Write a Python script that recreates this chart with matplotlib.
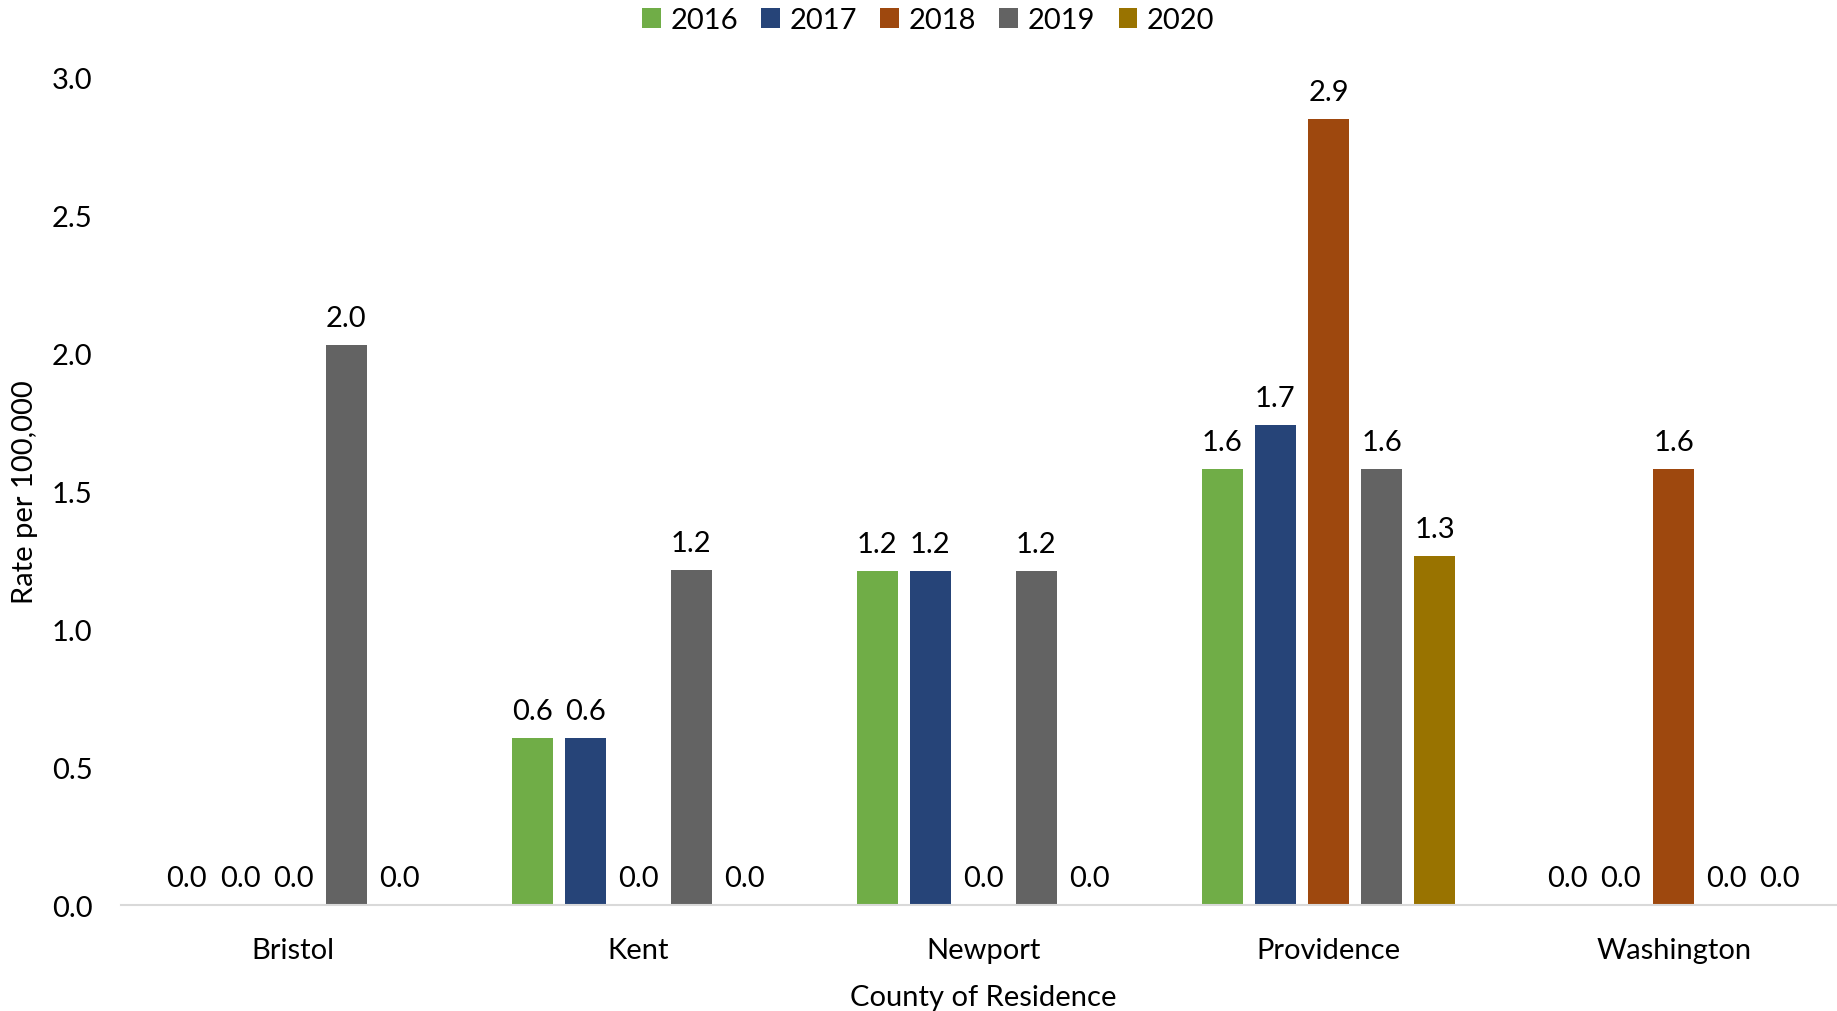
import numpy as np
import matplotlib.pyplot as plt

plt.rcParams['font.family'] = ['Lato', 'DejaVu Sans']

# County rates per 100,000 by year
counties = ['Bristol', 'Kent', 'Newport', 'Providence', 'Washington']
years = ['2016', '2017', '2018', '2019', '2020']
rate_2016 = [0.0, 0.605, 1.21, 1.58, 0.0]
rate_2017 = [0.0, 0.605, 1.21, 1.74, 0.0]
rate_2018 = [0.0, 0.0, 0.0, 2.85, 1.58]
rate_2019 = [2.03, 1.215, 1.21, 1.58, 0.0]
rate_2020 = [0.0, 0.0, 0.0, 1.265, 0.0]
colors = ['#70AD47', '#264478', '#9E480E', '#636363', '#997300']

series = [rate_2016, rate_2017, rate_2018, rate_2019, rate_2020]

fig = plt.figure(figsize=(18.37, 10.12), dpi=100)
ax = fig.add_axes([0.0656, 0.1047, 0.9394, 0.8177])

x = np.arange(len(counties))
width = 0.119
pitch = 0.1538
fs = 21

for i, (vals, yr, c) in enumerate(zip(series, years, colors)):
    pos = x + (i - 2) * pitch
    bars = ax.bar(pos, vals, width=width, color=c, label=yr)
    for b, v in zip(bars, vals):
        ax.annotate(f'{v:.1f}', (b.get_x() + b.get_width() / 2, v),
                    xytext=(0, 10), textcoords='offset points',
                    ha='center', va='bottom', fontsize=fs)

ax.set_xlim(-0.5, 4.5)
ax.set_ylim(0, 3.0)
ax.set_yticks(np.arange(0, 3.01, 0.5))
ax.set_yticklabels([f'{t:.1f}' for t in np.arange(0, 3.01, 0.5)])
ax.set_xticks(x)
ax.set_xticklabels(counties)
ax.tick_params(axis='both', length=0, labelsize=fs)
ax.tick_params(axis='x', pad=23)
ax.tick_params(axis='y', pad=20)

for s in ['top', 'right', 'left']:
    ax.spines[s].set_visible(False)
ax.spines['bottom'].set_color('#D9D9D9')
ax.spines['bottom'].set_linewidth(1.5)

ax.set_xlabel('County of Residence', fontsize=fs, labelpad=15)
ax.set_ylabel('Rate per 100,000', fontsize=fs, labelpad=10)

ax.legend(loc='center', bbox_to_anchor=(0.468, 1.069), ncol=5, frameon=False,
          fontsize=fs, handlelength=0.65, handleheight=0.65, handletextpad=0.32,
          columnspacing=0.8)

plt.savefig('out.png')
